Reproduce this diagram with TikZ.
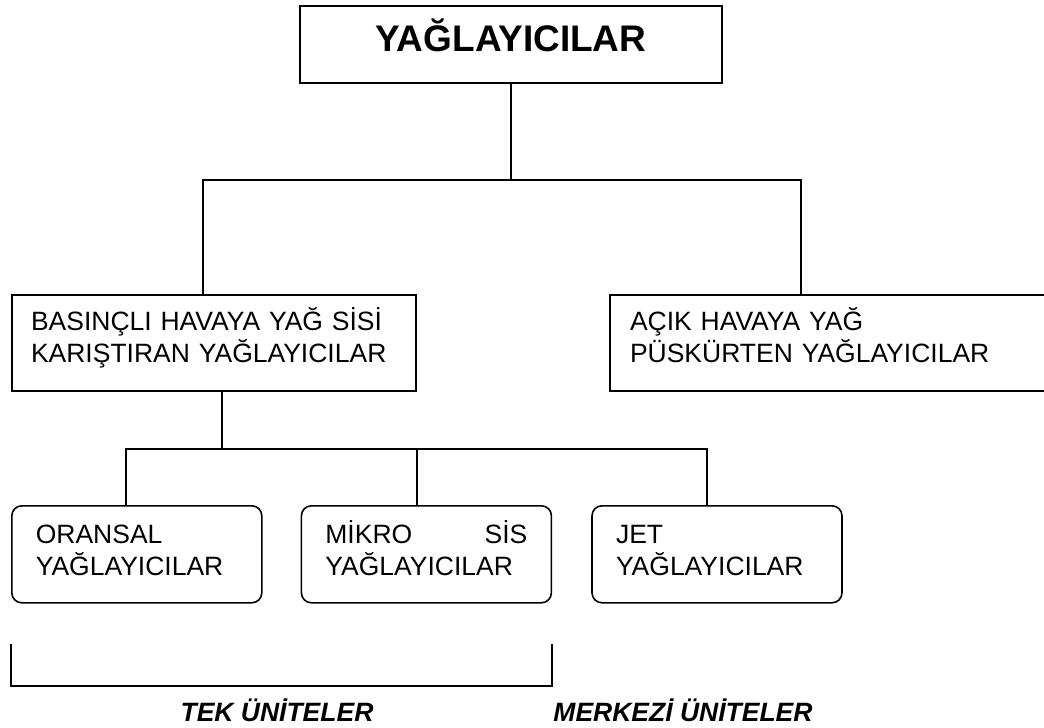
\documentclass[tikz,border=0pt]{standalone}
\usepackage{fontspec}
\setmainfont{Liberation Sans}
\usetikzlibrary{positioning}

\begin{document}
\begin{tikzpicture}[
  x=1pt, y=-1pt,
  node distance=38pt and 38pt,
  topbox/.style={rectangle, draw, line width=2pt, inner sep=0pt, minimum width=422pt, text height=45pt, text depth=32pt, font=\fontsize{37pt}{44pt}\selectfont\bfseries},
  groupbox/.style={rectangle, draw, line width=2pt, inner xsep=19pt, inner ysep=0pt, align=left, text height=35pt, text depth=60.5pt, font=\fontsize{26.5pt}{32pt}\selectfont},
  unitbox/.style={rectangle, draw, rounded corners=10pt, line width=1.6pt, inner xsep=24pt, inner ysep=0pt, text width=202pt, align=left, text height=38pt, text depth=59pt, font=\fontsize{26.5pt}{32pt}\selectfont},
  link/.style={line width=1.8pt},
  caption/.style={font=\fontsize{26.5pt}{32pt}\selectfont\bfseries\itshape, inner sep=0pt, text depth=0pt, anchor=base}
]
\useasboundingbox (0,0) rectangle (1044,728);
\clip (0,0) rectangle (1044,728);

% kutular
\node[topbox, anchor=north west] (root) at (299,5) {YAĞLAYICILAR};
\node[groupbox, text width=366pt, anchor=north west] (basin) at (11,294) {BASINÇLI HAVAYA YAĞ SİSİ\\KARIŞTIRAN YAĞLAYICILAR};
\node[groupbox, text width=403pt, inner xsep=20pt, right=192pt of basin] (acik) {AÇIK HAVAYA YAĞ\\PÜSKÜRTEN YAĞLAYICILAR};
\node[unitbox, anchor=north west] (oran) at (11,505) {ORANSAL\\YAĞLAYICILAR};
\node[unitbox, right=of oran] (mikro) {MİKRO\hskip 0pt plus 1fill SİS\\YAĞLAYICILAR};
\node[unitbox, right=39pt of mikro] (jet) {JET\\YAĞLAYICILAR};

% baglantilar
\coordinate[below=96pt of root.south] (split);
\draw[link] (root.south) -- (split);
\draw[link] ([xshift=192pt]basin.north west) |- (split) -| ([xshift=192pt]acik.north west);
\path ([xshift=211pt]basin.south west) coordinate (drop) ++(0,57.5) coordinate (fork);
\draw[link] (drop) -- (fork);
\draw[link] ([xshift=115pt]oran.north west) |- (fork) -| ([xshift=116pt]jet.north west);
\draw[link] ([xshift=116pt]mikro.north west) |- (fork);

% alt ayrac
\draw[link] ([yshift=-40pt]oran.south west) |- ([yshift=-82pt]mikro.south east) -- ([yshift=-40pt]mikro.south east);
\node[caption] (tek) at (277,721) {TEK ÜNİTELER};
\node[caption] (merkez) at (683,721) {MERKEZİ ÜNİTELER};
\end{tikzpicture}
\end{document}
